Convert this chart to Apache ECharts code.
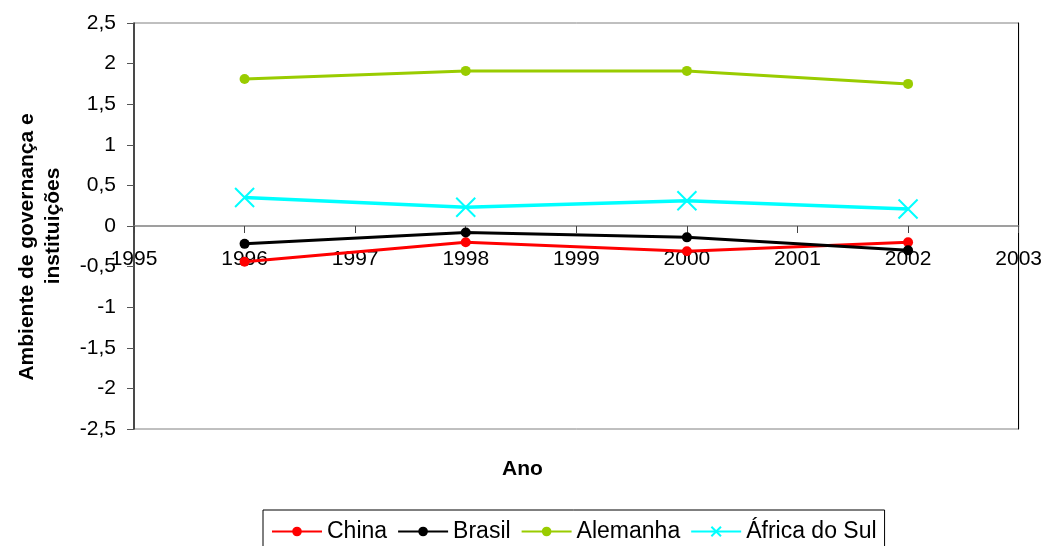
<!DOCTYPE html>
<html>
<head>
<meta charset="utf-8">
<script src="https://cdn.jsdelivr.net/npm/echarts@6/dist/echarts.min.js"></script>
<style>
  html, body { margin: 0; padding: 0; background: #fff; }
  #chart { width: 1045px; height: 546px; }
</style>
</head>
<body>
<div id="chart"></div>
<script>
// Governance and institutions indicator by year, four countries
const years = [1996, 1998, 2000, 2002];
const china = [-0.44, -0.20, -0.31, -0.20];
const brasil = [-0.22, -0.08, -0.14, -0.30];
const alemanha = [1.81, 1.91, 1.91, 1.75];
const africaDoSul = [0.35, 0.23, 0.31, 0.21];

const seriesNames = ['China', 'Brasil', 'Alemanha', 'África do Sul'];
const xTitle = 'Ano';
const yTitleLines = ['Ambiente de governança e', 'instituições'];

const FONT = '"Liberation Sans", Arial, sans-serif';
const pairs = vals => years.map((y, i) => [y, vals[i]]);
const crossPath = 'path://M0,0L20,20M20,0L0,20';

// Plot box geometry; the year axis sits on the zero line
const GRID_TOP = 23, GRID_BOTTOM = 117, CHART_H = 546;
const Y_MIN = -2.5, Y_MAX = 2.5;
const plotH = CHART_H - GRID_TOP - GRID_BOTTOM;
const zeroShift = -plotH * (0 - Y_MIN) / (Y_MAX - Y_MIN);

const chart = echarts.init(document.getElementById('chart'), null, { renderer: 'canvas' });

function lineSeries(name, vals, color, opts) {
  return Object.assign({
    name: name,
    type: 'line',
    data: pairs(vals),
    symbol: 'circle',
    symbolSize: 10,
    lineStyle: { color: color, width: 3 },
    itemStyle: { color: color },
    z: 3
  }, opts || {});
}

function yTitleText(text, x, y) {
  return {
    type: 'text',
    x: x, y: y,
    rotation: Math.PI / 2,
    style: {
      text: text, fontSize: 21, fontWeight: 'bold', fontFamily: FONT, fill: '#000',
      align: 'center', verticalAlign: 'middle'
    }
  };
}

chart.setOption({
  animation: false,
  textStyle: { fontFamily: FONT },
  grid: {
    left: 134, right: 25, top: GRID_TOP, bottom: GRID_BOTTOM,
    show: true, borderColor: '#808080', borderWidth: 1, backgroundColor: '#fff'
  },
  xAxis: {
    type: 'value',
    min: 1995, max: 2003, interval: 1,
    position: 'bottom',
    offset: zeroShift,
    axisLine: { show: true, onZero: false, lineStyle: { color: '#808080', width: 1.5 } },
    axisTick: { show: true, length: 7, lineStyle: { color: '#444' } },
    axisLabel: {
      color: '#000', fontSize: 21, fontFamily: FONT, margin: 23,
      formatter: v => String(v)
    },
    splitLine: { show: false }
  },
  yAxis: [{
    type: 'value',
    min: Y_MIN, max: Y_MAX, interval: 0.5,
    axisLine: { show: true, lineStyle: { color: '#222', width: 1.5 } },
    axisTick: { show: true, length: 7, lineStyle: { color: '#555' } },
    axisLabel: {
      color: '#000', fontSize: 21, fontFamily: FONT, margin: 18,
      formatter: v => String(v).replace('.', ',')
    },
    splitLine: { show: false }
  }, {
    type: 'value',
    position: 'right',
    min: Y_MIN, max: Y_MAX, interval: 0.5,
    axisLine: { show: true, onZero: false, lineStyle: { color: '#000', width: 1 } },
    axisTick: { show: false },
    axisLabel: { show: false },
    splitLine: { show: false }
  }],
  legend: {
    left: 263, top: 510,
    orient: 'horizontal',
    borderColor: '#000', borderWidth: 1,
    padding: [10, 8, 10, 8],
    itemGap: 10, itemWidth: 50, itemHeight: 12,
    textStyle: { color: '#000', fontSize: 23, fontFamily: FONT },
    data: seriesNames
  },
  graphic: [{
    type: 'text',
    left: 'center',
    top: 459,
    style: { text: xTitle, fontSize: 21, fontWeight: 'bold', fontFamily: FONT, fill: '#000' }
  },
    yTitleText(yTitleLines[0], 27, 247),
    yTitleText(yTitleLines[1], 53, 226)
  ],
  series: [
    lineSeries(seriesNames[0], china, '#FF0000'),
    lineSeries(seriesNames[1], brasil, '#000000'),
    lineSeries(seriesNames[2], alemanha, '#99CC00'),
    lineSeries(seriesNames[3], africaDoSul, '#00FFFF', {
      symbol: crossPath,
      symbolSize: 19,
      lineStyle: { color: '#00FFFF', width: 3.5 },
      itemStyle: { color: 'none', borderColor: '#00FFFF', borderWidth: 2 }
    })
  ]
});
</script>
</body>
</html>
